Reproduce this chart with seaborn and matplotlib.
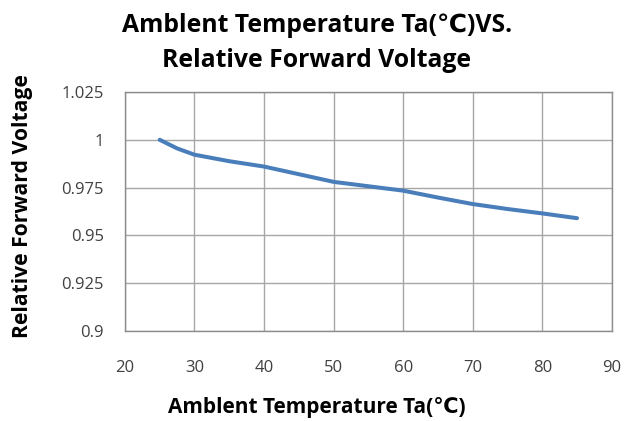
import matplotlib
matplotlib.use("Agg")
import matplotlib.pyplot as plt
import seaborn as sns
import pandas as pd

# values
temperature = [25, 27.5, 30, 35, 40, 45, 50, 55, 60, 65, 70, 75, 80, 85]
rel_voltage = [1.0, 0.9955, 0.9922, 0.9888, 0.986, 0.982, 0.978, 0.9757, 0.9734, 0.9698, 0.9664, 0.9638, 0.9615, 0.9590]

x_ticks = [20, 30, 40, 50, 60, 70, 80, 90]
y_ticks = [0.9, 0.925, 0.95, 0.975, 1.0, 1.025]
y_tick_labels = ["0.9", "0.925", "0.95", "0.975", "1", "1.025"]

df = pd.DataFrame({"temp": temperature, "vf": rel_voltage})

sns.set_style("white")
plt.rcParams['font.family'] = ['Open Sans', 'DejaVu Sans']

fig = plt.figure(figsize=(6.34, 4.21), dpi=100)
ax = fig.add_axes([0.197, 0.2138, 0.768, 0.5677])

sns.lineplot(data=df, x="temp", y="vf", ax=ax, color="#4a7ebb", linewidth=2.9)

ax.set_xlim(20, 90)
ax.set_ylim(0.9, 1.025)
ax.set_xticks(x_ticks)
ax.set_yticks(y_ticks)
ax.set_yticklabels(y_tick_labels)
ax.grid(True, color="#a6a6a6", linewidth=1)
for s in ax.spines.values():
    s.set_color("#8c8c8c")
    s.set_linewidth(1)
ax.tick_params(axis="both", length=0, labelsize=12, colors="#404040")
ax.tick_params(axis="y", pad=15)
ax.tick_params(axis="x", pad=21)
ax.set_xlabel("")
ax.set_ylabel("")

fig.text(0.5, 0.94, "Amblent Temperature Ta(℃)VS.", ha="center", va="center",
         fontsize=17.8, fontweight="bold", color="black")
fig.text(0.5, 0.857, "Relative Forward Voltage", ha="center", va="center",
         fontsize=17.8, fontweight="bold", color="black")
fig.text(0.5, 0.031, "Amblent Temperature Ta(℃)", ha="center", va="center",
         fontsize=15, fontweight="bold", color="black")
fig.text(0.035, 0.51, "Relative Forward Voltage", ha="center", va="center",
         rotation=90, fontsize=15.2, fontweight="bold", color="black")

fig.savefig("out.png", dpi=100)
